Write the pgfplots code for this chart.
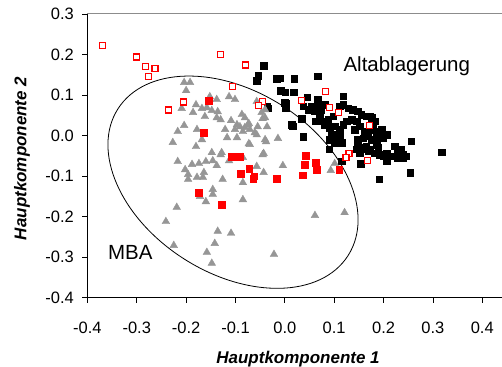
\documentclass[border=0pt]{standalone}
\usepackage{pgfplots}
\pgfplotsset{compat=1.18}
\usepackage{fontspec}
\setmainfont{Liberation Sans}
\definecolor{ptgray}{RGB}{150,150,150}
\definecolor{ptred}{RGB}{255,0,0}
\begin{document}
\begin{tikzpicture}
\begin{axis}[
  scale only axis, width=415pt, height=284pt,
  xmin=-0.4, xmax=0.44, ymin=-0.4, ymax=0.3,
  axis x line*=bottom, axis y line*=left,
  axis line style={line width=1pt, -},
  xtick={-0.4,-0.3,-0.2,-0.1,0,0.1,0.2,0.3,0.4},
  xticklabels={-0.4,-0.3,-0.2,-0.1,0.0,0.1,0.2,0.3,0.4},
  ytick={-0.4,-0.3,-0.2,-0.1,0,0.1,0.2,0.3},
  yticklabels={-0.4,-0.3,-0.2,-0.1,0.0,0.1,0.2,0.3},
  tick align=outside, major tick length=5pt,
  tick style={black, line width=0.8pt},
  ticklabel style={font=\fontsize{16.5}{19}\selectfont},
  xticklabel style={anchor=center, yshift=-25pt},
  yticklabel style={anchor=east, xshift=-5pt},
  xlabel={\bfseries\itshape Hauptkomponente 1},
  ylabel={\bfseries\itshape Hauptkomponente 2},
  label style={font=\fontsize{17}{20}\selectfont\bfseries\itshape},
  xlabel style={at={(axis description cs:0.508,0)}, anchor=center, yshift=-61pt},
  ylabel style={at={(axis description cs:-0.158,0.491)}, anchor=center},
  clip=false,
]
\draw[line width=0.8pt, rotate around={-32.5:(axis cs:-0.105,-0.115)}] (axis cs:-0.105,-0.115) ellipse [x radius=136.6pt, y radius=91.1pt];

% Altablagerung (black squares)
\addplot[only marks, mark=square*, mark size=3.3pt, mark options={fill=black, draw=black}] coordinates {
(-0.043,0.173) (-0.054,0.148) (-0.057,0.136) (-0.017,0.140) (-0.010,0.142) (0.019,0.140) (0.066,0.146)
(-0.008,0.111) (0.001,0.107) (0.018,0.107) (0.045,0.095) (0.066,0.090) (0.118,0.097)
(0.003,0.078) (0.002,0.068) (-0.036,0.072) (0.000,0.081) (0.034,0.041) (0.016,0.023) (0.014,0.027)
(0.037,-0.003) (0.090,-0.034) (0.115,-0.063) (0.154,-0.069) (0.191,-0.108) (0.254,-0.092)
(0.318,-0.041) (0.256,-0.014)
(0.037,0.072) (0.047,0.064) (0.054,0.072) (0.061,0.060) (0.067,0.072) (0.074,0.064) (0.081,0.076)
(0.071,0.044) (0.063,0.035) (0.078,0.035) (0.088,0.039) (0.098,0.048) (0.111,0.072) (0.118,0.076)
(0.128,0.068) (0.138,0.064) (0.148,0.060) (0.155,0.052) (0.165,0.048) (0.176,0.044) (0.172,0.015)
(0.179,0.023) (0.186,0.007) (0.196,0.015) (0.199,-0.006) (0.206,0.002)
(0.081,0.027) (0.091,0.019) (0.101,0.023) (0.111,0.015) (0.118,0.027) (0.125,0.035) (0.135,0.039)
(0.145,0.035) (0.152,0.023) (0.142,0.015) (0.162,0.011) (0.169,-0.002) (0.176,-0.010) (0.186,-0.010)
(0.095,0.002) (0.105,-0.002) (0.111,-0.002) (0.115,-0.018) (0.100,-0.018) (0.090,-0.010)
(0.148,-0.010) (0.159,-0.006) (0.165,-0.026) (0.155,-0.030) (0.152,-0.043) (0.172,-0.034)
(0.182,-0.043) (0.189,-0.030) (0.192,-0.047) (0.206,-0.043) (0.216,-0.051) (0.223,-0.026)
(0.229,-0.043) (0.239,-0.047) (0.246,-0.051) (0.236,-0.034) (0.206,-0.063) (0.229,-0.055)
(0.172,0.048) (0.182,0.035) (0.192,0.011) (0.179,-0.010) (0.159,-0.034) (0.169,-0.039)
(0.186,-0.022) (0.199,-0.051) (0.236,-0.047) (0.239,-0.055) (0.206,-0.059)
(0.145,-0.034) (0.148,-0.026) (-0.035,0.068)
};

% MBA (gray triangles)
\addplot[only marks, mark=triangle*, mark size=4.4pt, mark options={fill=ptgray, draw=ptgray}] coordinates {
(-0.204,0.131) (-0.192,0.131) (-0.200,0.111) (-0.152,0.096) (-0.138,0.089) (-0.113,0.096) (-0.101,0.089)
(-0.180,0.076) (-0.209,0.067) (-0.186,0.057) (-0.168,0.067) (-0.158,0.069) (-0.148,0.062) (-0.136,0.059)
(-0.162,0.047) (-0.138,0.044) (-0.130,0.039) (-0.087,0.052) (-0.081,0.044) (-0.109,0.037) (-0.047,0.057)
(-0.040,0.044) (-0.097,0.027) (-0.091,0.022) (-0.081,0.020) (-0.075,0.027) (-0.055,0.022) (-0.036,0.022)
(-0.204,0.025) (-0.217,0.010) (-0.178,0.015) (-0.121,0.015) (-0.101,0.015) (-0.085,0.010) (-0.071,0.015)
(-0.061,0.007) (-0.057,0.002) (-0.117,-0.005) (-0.097,-0.005) (-0.040,-0.010) (-0.014,-0.007)
(-0.071,-0.022) (-0.168,-0.010) (-0.227,-0.017) (-0.180,-0.027) (-0.148,-0.042) (-0.128,-0.042)
(-0.045,-0.047) (-0.057,0.084) (-0.040,0.064) (-0.045,0.042) (-0.073,0.030)
(-0.113,-0.062) (-0.217,-0.064) (-0.202,-0.084) (-0.188,-0.071) (-0.174,-0.069) (-0.160,-0.064)
(-0.146,-0.062) (-0.138,-0.074) (-0.196,-0.096) (-0.196,-0.108) (-0.178,-0.103) (-0.164,-0.091)
(-0.166,-0.103) (-0.126,-0.108) (-0.073,-0.020) (-0.043,-0.044) (-0.057,-0.076) (-0.043,-0.091)
(-0.085,-0.116) (-0.172,-0.150) (-0.160,-0.163) (-0.146,-0.133) (-0.146,-0.145) (-0.085,-0.158)
(-0.219,-0.177) (-0.241,-0.212) (-0.136,-0.236) (-0.109,-0.241) (-0.142,-0.266) (-0.225,-0.271)
(-0.158,-0.288) (-0.148,-0.315) (-0.022,-0.293) (-0.038,-0.015) (-0.085,-0.054) (-0.004,-0.074)
(0.101,-0.069) (0.093,-0.086) (0.061,-0.197) (0.121,-0.190) (-0.130,-0.047)
};

% red filled squares
\addplot[only marks, mark=square*, mark size=3.4pt, mark options={fill=ptred, draw=ptred}] coordinates {
(-0.154,0.086) (-0.165,0.007) (-0.107,-0.053) (-0.091,-0.053) (-0.072,-0.081) (-0.089,-0.094)
(-0.062,-0.100) (-0.064,-0.107) (-0.016,-0.106) (-0.175,-0.140) (-0.128,-0.170) (0.043,-0.050)
(0.041,-0.072) (0.063,-0.067) (0.064,-0.084) (0.036,-0.098) (0.110,-0.084)
};

% red open squares
\addplot[only marks, color=ptred, mark=square*, mark size=3pt, mark options={solid, fill=white, draw=ptred, line width=1.2pt}] coordinates {
(-0.370,0.222) (-0.300,0.194) (-0.283,0.171) (-0.263,0.165) (-0.277,0.145) (-0.131,0.201) (-0.080,0.174)
(-0.106,0.122) (-0.205,0.083) (-0.235,0.063) (-0.045,0.084) (-0.054,0.075) (0.082,0.108) (0.034,0.086)
(0.090,0.070) (0.108,0.056) (0.171,0.024) (0.130,-0.044) (0.124,-0.054) (0.167,-0.062)
};

\draw[color=gray!90, line width=1pt] (rel axis cs:0,1) -- (rel axis cs:1,1);
\node[font=\fontsize{20.5}{24}\selectfont, anchor=center] at (axis cs:0.247,0.172) {Altablagerung};
\node[font=\fontsize{20.5}{24}\selectfont, anchor=center] at (axis cs:-0.313,-0.289) {MBA};
\end{axis}
\pgfresetboundingbox
\path ([shift={(-87.5pt,-69pt)}]current axis.south west) rectangle ([shift={(0pt,14pt)}]current axis.north east);
\end{tikzpicture}
\end{document}
